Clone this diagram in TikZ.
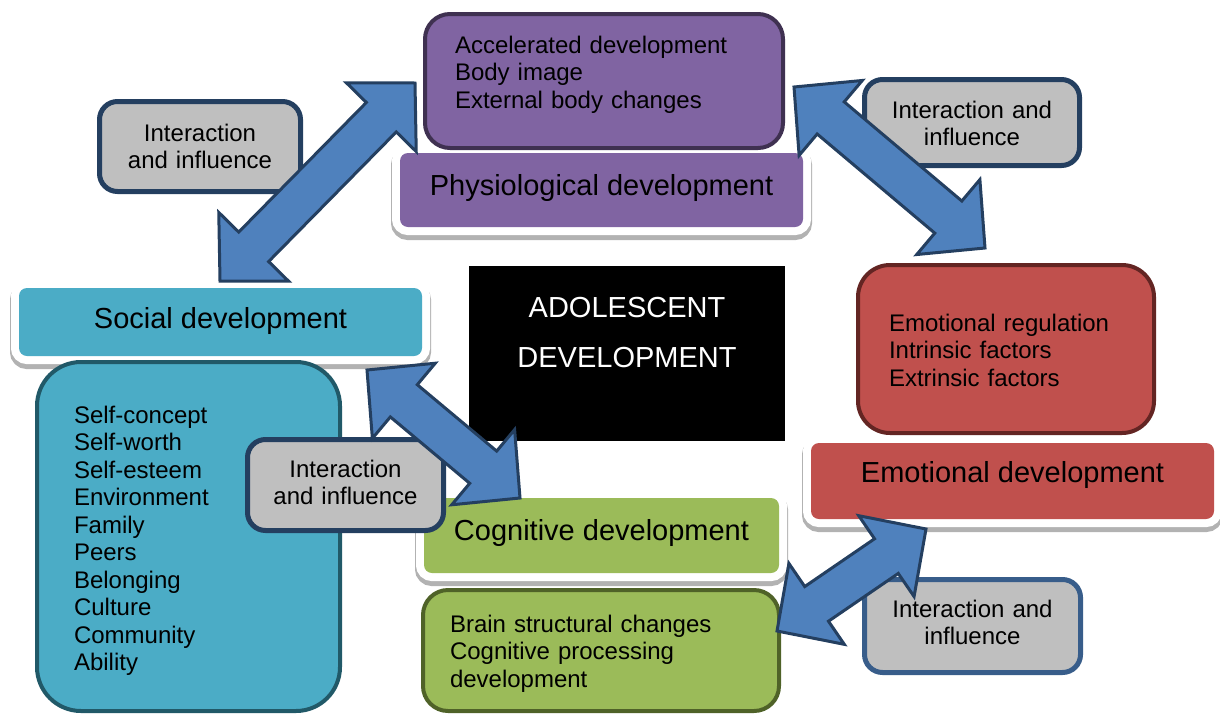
\documentclass[tikz,border=0pt]{standalone}
\usepackage{fontspec}
\setmainfont{Liberation Sans}
\usetikzlibrary{calc}

\definecolor{physio}{HTML}{8064A2}
\definecolor{physioDark}{HTML}{3F3151}
\definecolor{social}{HTML}{4BACC6}
\definecolor{socialDark}{HTML}{215968}
\definecolor{cognitive}{HTML}{9BBB59}
\definecolor{cognitiveDark}{HTML}{4F6228}
\definecolor{emotional}{HTML}{C0504D}
\definecolor{emotionalDark}{HTML}{632523}
\definecolor{linkFill}{HTML}{4F81BD}
\definecolor{linkLine}{HTML}{243F60}
\definecolor{noteFill}{HTML}{BFBFBF}
\definecolor{noteLine}{HTML}{385D8A}

% double block arrow between two named points
\newcommand\headlen{48pt}
\newcommand\headhalf{49pt}
\newcommand\shafthalf{21pt}
\newcommand\dblarrow[2]{%
  \draw[linkarrow] let \p1=($(#2)-(#1)$), \n1={atan2(\y1,\x1)} in
    (#1) -- ($(#1)+(\n1:\headlen)+({\n1+90}:\headhalf)$)
    -- ($(#1)+(\n1:\headlen)+({\n1+90}:\shafthalf)$)
    -- ($(#2)-(\n1:\headlen)+({\n1+90}:\shafthalf)$)
    -- ($(#2)-(\n1:\headlen)+({\n1+90}:\headhalf)$)
    -- (#2)
    -- ($(#2)-(\n1:\headlen)-({\n1+90}:\headhalf)$)
    -- ($(#2)-(\n1:\headlen)-({\n1+90}:\shafthalf)$)
    -- ($(#1)+(\n1:\headlen)-({\n1+90}:\shafthalf)$)
    -- ($(#1)+(\n1:\headlen)-({\n1+90}:\headhalf)$)
    -- cycle;}

\begin{document}
\begin{tikzpicture}[x=1pt, y=-1pt,
    titlebox/.style={fill=#1, rounded corners=8, inner sep=0, align=center,
        font=\fontsize{29}{34}\selectfont, text height=20,
        preaction={draw=black!30, line width=18, transform canvas={yshift=-4pt}},
        preaction={draw=white, line width=16}},
    detailbox/.style 2 args={fill=#1, draw=#2, line width=4, inner ysep=0, align=left,
        font=\fontsize{24}{27.5}\selectfont, text height=20},
    notebox/.style={fill=noteFill, draw=linkLine, line width=5, rounded corners=18,
        inner xsep=4, inner ysep=0, align=center,
        font=\fontsize{24}{27}\selectfont, text height=20},
    linkarrow/.style={fill=linkFill, draw=linkLine, line width=3, line join=miter}]

    \useasboundingbox (0,0) rectangle (1220,715);

    % Headings
    \node[titlebox=physio, minimum width=403, minimum height=74, text depth=10]
        (physTitle) at (601.5,190) {Physiological development};
    \node[titlebox=social, minimum width=403, minimum height=68, text depth=8]
        (socTitle) at (220.5,322) {Social development};
    \node[titlebox=cognitive, minimum width=355, minimum height=75, text depth=11]
        (cogTitle) at (601.5,535.5) {Cognitive development};
    \node[titlebox=emotional, minimum width=403, minimum height=76, text depth=18]
        (emoTitle) at (1012.5,481) {Emotional development};

    % Details
    \node[detailbox={physio}{physioDark}, rounded corners=25, minimum width=358, minimum height=134,
        inner xsep=30, text width=298, text depth=76]
        (physDetail) at (604,81) {Accelerated development\\Body image\\External body changes};
    \node[detailbox={social}{socialDark}, rounded corners=44, minimum width=303, minimum height=349,
        inner xsep=37, text width=229, text depth=247]
        (socDetail) at (188.5,536.5) {Self-concept\\Self-worth\\Self-esteem\\Environment\\Family\\Peers\\Belonging\\Culture\\Community\\Ability};
    \node[detailbox={emotional}{emotionalDark}, rounded corners=32, minimum width=296, minimum height=168,
        inner xsep=31, text width=234, text depth=56]
        (emoDetail) at (1006,349) {Emotional regulation\\Intrinsic factors\\Extrinsic factors};
    \node[detailbox={cognitive}{cognitiveDark}, rounded corners=25, minimum width=356, minimum height=121,
        inner xsep=27, text width=302, text depth=57]
        (cogDetail) at (601,650.5) {Brain structural changes\\Cognitive processing\\development};

    % Centre
    \node[fill=black, text=white, minimum width=316, minimum height=175, inner sep=0,
        text width=300, align=center, font=\fontsize{29}{50}\selectfont, text height=20, text depth=93]
        (adolBox) at (627,353.5) {ADOLESCENT\\DEVELOPMENT};

    % Notes
    \node[notebox, minimum width=201, minimum height=90, text width=193, text depth=31]
        (noteTL) at (200,146.5) {Interaction\\and influence};
    \node[notebox, minimum width=215, minimum height=86, text width=207, text depth=29]
        (noteTR) at (972,122.5) {Interaction and\\influence};
    \node[notebox, minimum width=196, minimum height=91, text width=188, text depth=36]
        (noteMid) at (345.5,485) {Interaction\\and influence};
    \node[notebox, draw=noteLine, minimum width=216, minimum height=93, text width=208, text depth=38]
        (noteBR) at (972.5,626) {Interaction and\\influence};

    % Arrows
    \coordinate (physSocA) at (415,83);
    \coordinate (physSocB) at (220,281);
    \coordinate (physEmoA) at (794,87);
    \coordinate (physEmoB) at (985,248);
    \coordinate (socCogA) at (367,370);
    \coordinate (socCogB) at (520,498);
    \coordinate (cogEmoA) at (777,631);
    \coordinate (cogEmoB) at (926,529);

    \dblarrow{physSocB}{physSocA}
    \dblarrow{physEmoA}{physEmoB}
    \dblarrow{socCogA}{socCogB}
    \dblarrow{cogEmoA}{cogEmoB}
\end{tikzpicture}
\end{document}
